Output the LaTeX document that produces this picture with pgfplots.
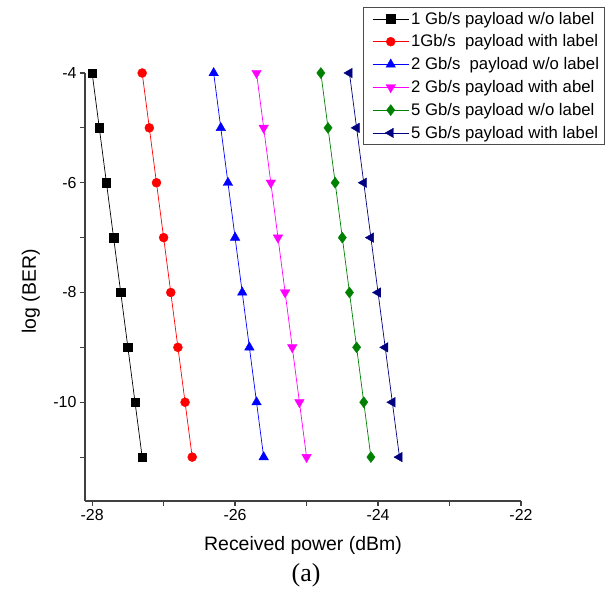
\documentclass[border=0pt]{standalone}
\usepackage{pgfplots}
\pgfplotsset{compat=1.18}
\usepackage{fontspec}
\setmainfont{Liberation Sans}
\newfontfamily\serifcap{Liberation Serif}
\definecolor{dkgreen}{RGB}{0,128,0}
\definecolor{navyc}{RGB}{0,0,128}
\definecolor{magc}{RGB}{255,0,255}
\begin{document}
\begin{tikzpicture}
\path[use as bounding box] (-85bp,-90bp) rectangle (523bp,501bp);
\begin{axis}[
  scale only axis, width=436bp, height=428bp,
  xmin=-28.1, xmax=-22, ymin=-11.8, ymax=-4,
  axis x line*=bottom, axis y line*=left,
  axis line style={-, line width=1.2pt, draw=black!75},
  xtick={-28,-26,-24,-22}, minor xtick={-27,-25,-23},
  ytick={-4,-6,-8,-10}, minor ytick={-5,-7,-9,-11},
  tick align=outside, major tick length=5bp, minor tick length=5bp,
  tick style={line width=1.2pt, draw=black!75},
  /pgf/number format/assume math mode=true,
  ticklabel style={font=\fontsize{16}{19}\selectfont},
  xlabel={Received power (dBm)}, ylabel={log (BER)},
  label style={font=\fontsize{19.5}{23}\selectfont},
  xlabel style={at={(rel axis cs:0.5,-0.103)}, anchor=center},
  ylabel style={at={(rel axis cs:-0.124,0.49)}, anchor=center},
  legend style={at={(rel axis cs:0.6376,1.155)}, anchor=north west,
    draw=black!70, line width=0.8pt, font=\fontsize{16.8}{19}\selectfont,
    row sep=5.2bp, inner sep=3bp, cells={anchor=west}},
  legend cell align=left,
  legend image code/.code={\path (0bp,0bp); \draw[mark repeat=2,mark phase=2] plot coordinates {(6bp,0bp)(24bp,0bp)(42bp,0bp)};},
  every axis plot/.append style={line width=0.7pt},
  clip=false,
]
\addplot[black, mark=square*, mark size=4.2bp, mark options={solid,line width=0.4pt}] coordinates {
(-28.0,-4)(-27.9,-5)(-27.8,-6)(-27.7,-7)(-27.6,-8)(-27.5,-9)(-27.4,-10)(-27.3,-11)};
\addlegendentry{1 Gb/s payload w/o label}
\addplot[red, mark=*, mark size=4.5bp, mark options={solid,line width=0.4pt}] coordinates {
(-27.3,-4)(-27.2,-5)(-27.1,-6)(-27.0,-7)(-26.9,-8)(-26.8,-9)(-26.7,-10)(-26.6,-11)};
\addlegendentry{1Gb/s\ \ payload with label}
\addplot[blue, mark=triangle*, mark size=5.5bp, mark options={solid,line width=0.4pt}] coordinates {
(-26.3,-4)(-26.2,-5)(-26.1,-6)(-26.0,-7)(-25.9,-8)(-25.8,-9)(-25.7,-10)(-25.6,-11)};
\addlegendentry{2 Gb/s\ \ payload w/o label}
\addplot[magc, mark=triangle*, mark size=5.5bp, mark options={solid,rotate=180,line width=0.4pt}] coordinates {
(-25.7,-4)(-25.6,-5)(-25.5,-6)(-25.4,-7)(-25.3,-8)(-25.2,-9)(-25.1,-10)(-25.0,-11)};
\addlegendentry{2 Gb/s payload with abel}
\addplot[dkgreen, mark=diamond*, mark size=5.5bp, mark options={solid,line width=0.4pt}] coordinates {
(-24.8,-4)(-24.7,-5)(-24.6,-6)(-24.5,-7)(-24.4,-8)(-24.3,-9)(-24.2,-10)(-24.1,-11)};
\addlegendentry{5 Gb/s payload w/o label}
\addplot[navyc, mark=triangle*, mark size=5.5bp, mark options={solid,rotate=90,line width=0.4pt}] coordinates {
(-24.4,-4)(-24.3,-5)(-24.2,-6)(-24.1,-7)(-24.0,-8)(-23.9,-9)(-23.8,-10)(-23.7,-11)};
\addlegendentry{5 Gb/s payload with label}
\node[font=\serifcap\fontsize{26}{30}\selectfont] at (rel axis cs:0.507,-0.173) {(a)};
\end{axis}
\end{tikzpicture}
\end{document}
